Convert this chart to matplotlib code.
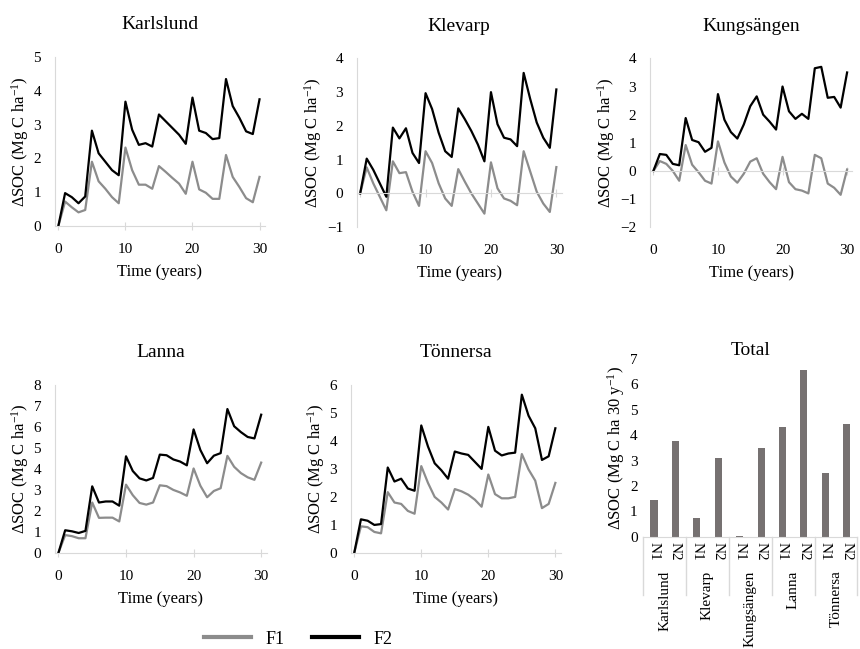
import numpy as np
import matplotlib
matplotlib.use("Agg")
import matplotlib.pyplot as plt

# --- CONFIG ---
plt.rcParams['font.family'] = ['Liberation Serif', 'DejaVu Serif']
plt.rcParams['mathtext.fontset'] = 'custom'
plt.rcParams['mathtext.rm'] = 'Liberation Serif'
plt.rcParams['mathtext.default'] = 'regular'
F1_COLOR = '#8c8c8c'
F2_COLOR = '#000000'
AXIS_COLOR = '#d9d9d9'
BAR_COLOR = '#767171'

# --- DATA ---
years = np.arange(0, 31)

karlslund_f1 = [0, 0.72, 0.55, 0.40, 0.47, 1.90, 1.32, 1.10, 0.85, 0.67, 2.32, 1.65, 1.22, 1.22, 1.10, 1.77,
                1.60, 1.42, 1.25, 0.95, 1.90, 1.08, 0.98, 0.80, 0.80, 2.10, 1.45, 1.15, 0.82, 0.70, 1.45]
karlslund_f2 = [0, 0.97, 0.85, 0.67, 0.87, 2.82, 2.15, 1.90, 1.65, 1.50, 3.68, 2.85, 2.40, 2.45, 2.35, 3.30,
                3.10, 2.90, 2.70, 2.43, 3.80, 2.82, 2.75, 2.57, 2.60, 4.35, 3.55, 3.20, 2.80, 2.72, 3.75]

klevarp_f1 = [0, 0.77, 0.30, -0.10, -0.50, 0.95, 0.60, 0.63, 0.05, -0.37, 1.25, 0.90, 0.30, -0.15, -0.37, 0.72,
              0.35, 0.00, -0.30, -0.60, 0.92, 0.15, -0.15, -0.22, -0.35, 1.25, 0.65, 0.05, -0.30, -0.55, 0.78]
klevarp_f2 = [0, 1.03, 0.70, 0.30, -0.10, 1.95, 1.63, 1.93, 1.20, 0.90, 2.97, 2.50, 1.80, 1.25, 1.08, 2.52,
              2.20, 1.85, 1.45, 0.95, 3.00, 2.05, 1.65, 1.60, 1.40, 3.57, 2.80, 2.10, 1.65, 1.35, 3.08]

kungsangen_f1 = [0, 0.35, 0.25, 0.00, -0.35, 0.92, 0.22, -0.05, -0.35, -0.45, 1.05, 0.30, -0.20, -0.42, -0.10, 0.33,
                 0.45, -0.10, -0.40, -0.65, 0.50, -0.40, -0.65, -0.70, -0.80, 0.57, 0.45, -0.45, -0.60, -0.85, 0.05]
kungsangen_f2 = [0, 0.60, 0.57, 0.25, 0.20, 1.88, 1.10, 1.02, 0.68, 0.82, 2.73, 1.82, 1.38, 1.15, 1.65, 2.30,
                 2.65, 2.00, 1.75, 1.47, 3.00, 2.12, 1.85, 2.03, 1.85, 3.65, 3.70, 2.60, 2.63, 2.25, 3.50]

lanna_f1 = [0, 0.85, 0.80, 0.70, 0.70, 2.40, 1.67, 1.68, 1.68, 1.50, 3.25, 2.75, 2.38, 2.30, 2.40, 3.22,
            3.18, 3.00, 2.88, 2.72, 4.02, 3.20, 2.65, 2.95, 3.08, 4.62, 4.10, 3.80, 3.60, 3.48, 4.30]
lanna_f2 = [0, 1.08, 1.03, 0.95, 1.05, 3.17, 2.40, 2.45, 2.45, 2.25, 4.60, 3.90, 3.55, 3.45, 3.57, 4.68,
            4.65, 4.45, 4.35, 4.17, 5.88, 4.90, 4.27, 4.63, 4.75, 6.85, 6.03, 5.75, 5.52, 5.45, 6.58]

tonnersa_f1 = [0, 0.95, 0.92, 0.75, 0.70, 2.17, 1.80, 1.75, 1.50, 1.40, 3.10, 2.50, 2.00, 1.80, 1.55, 2.28,
               2.20, 2.08, 1.90, 1.65, 2.80, 2.10, 1.95, 1.95, 2.00, 3.53, 2.98, 2.58, 1.60, 1.75, 2.50]
tonnersa_f2 = [0, 1.20, 1.15, 1.00, 1.03, 3.05, 2.55, 2.65, 2.30, 2.22, 4.55, 3.80, 3.20, 2.95, 2.65, 3.62,
               3.55, 3.50, 3.25, 3.00, 4.50, 3.65, 3.48, 3.55, 3.58, 5.65, 4.90, 4.45, 3.32, 3.45, 4.45]

sites = ['Karlslund', 'Klevarp', 'Kungsängen', 'Lanna', 'Tönnersa']
total_n1 = [1.45, 0.75, 0.03, 4.30, 2.50]
total_n2 = [3.75, 3.10, 3.50, 6.55, 4.45]

panels = [
    ('Karlslund', karlslund_f1, karlslund_f2, (0, 5), [0.064, 0.652, 0.244, 0.260]),
    ('Klevarp', klevarp_f1, klevarp_f2, (-1, 4), [0.415, 0.650, 0.238, 0.260]),
    ('Kungsängen', kungsangen_f1, kungsangen_f2, (-2, 4), [0.756, 0.650, 0.235, 0.260]),
    ('Lanna', lanna_f1, lanna_f2, (0, 8), [0.064, 0.148, 0.246, 0.259]),
    ('Tönnersa', tonnersa_f1, tonnersa_f2, (0, 6), [0.408, 0.148, 0.244, 0.259]),
]

fig = plt.figure(figsize=(8.6, 6.49), dpi=100)
ylab = r'ΔSOC (Mg C ha$^{-1}$)'

for name, f1, f2, ylim, rect in panels:
    ax = fig.add_axes(rect)
    ax.plot(years, f1, color=F1_COLOR, lw=1.6, label='F1')
    ax.plot(years, f2, color=F2_COLOR, lw=1.6, label='F2')
    ax.set_xlim(-0.5, 30.8)
    ax.set_ylim(*ylim)
    ax.set_yticks(range(ylim[0], ylim[1] + 1))
    ax.set_xticks([0, 10, 20, 30])
    for s in ['top', 'right']:
        ax.spines[s].set_visible(False)
    ax.spines['left'].set_color(AXIS_COLOR)
    ax.spines['bottom'].set_color(AXIS_COLOR)
    ax.spines['bottom'].set_position(('data', 0))
    ax.tick_params(axis='y', length=0, labelsize=11, pad=10)
    ax.tick_params(axis='x', direction='inout', length=6, color=AXIS_COLOR, labelbottom=False)
    # tick labels and axis title always sit below the plot area
    sec = ax.secondary_xaxis(0)
    sec.set_xticks([0, 10, 20, 30])
    sec.spines['bottom'].set_visible(False)
    sec.tick_params(length=0, labelsize=11, pad=12)
    sec.set_xlabel('Time (years)', fontsize=12, labelpad=6)
    ax.set_title(name, fontsize=14, pad=20)
    ax.set_ylabel(ylab, fontsize=12, labelpad=2)

# --- Total bars ---
axb = fig.add_axes([0.748, 0.173, 0.249, 0.274])
xpos = np.arange(len(sites) * 2)
vals = [v for pair in zip(total_n1, total_n2) for v in pair]
axb.bar(xpos, vals, width=0.33, color=BAR_COLOR)
axb.set_xlim(-0.5, len(xpos) - 0.5)
axb.set_ylim(0, 7)
axb.set_yticks(range(0, 8))
for s in ['top', 'right']:
    axb.spines[s].set_visible(False)
axb.spines['left'].set_visible(False)
axb.spines['bottom'].set_color(AXIS_COLOR)
axb.tick_params(axis='y', length=0, labelsize=11, pad=4)
axb.set_xticks(xpos)
axb.set_xticklabels(['N1', 'N2'] * len(sites), rotation=270, fontsize=11)
axb.tick_params(axis='x', length=0, pad=4)
axb.set_title('Total', fontsize=14, pad=2)
axb.set_ylabel(r'ΔSOC (Mg C ha 30 y$^{-1}$)', fontsize=12, labelpad=2)

# group separators and site labels below the axis
trans = axb.get_xaxis_transform()
for k in range(len(sites) + 1):
    axb.plot([2 * k - 0.5, 2 * k - 0.5], [0, -0.33], transform=trans, color=AXIS_COLOR,
             lw=1, clip_on=False)
for k, site in enumerate(sites):
    axb.text(2 * k + 0.5, -0.19, site, transform=trans, rotation=90, ha='center', va='top',
             fontsize=11)

# legend
handles = [plt.Line2D([], [], color=F1_COLOR, lw=3), plt.Line2D([], [], color=F2_COLOR, lw=3)]
fig.legend(handles, ['F1', 'F2'], loc='center', bbox_to_anchor=(0.347, 0.015), ncol=2,
           frameon=False, fontsize=13, handlelength=2.6, columnspacing=1.5)

fig.savefig('out.png', dpi=100)
